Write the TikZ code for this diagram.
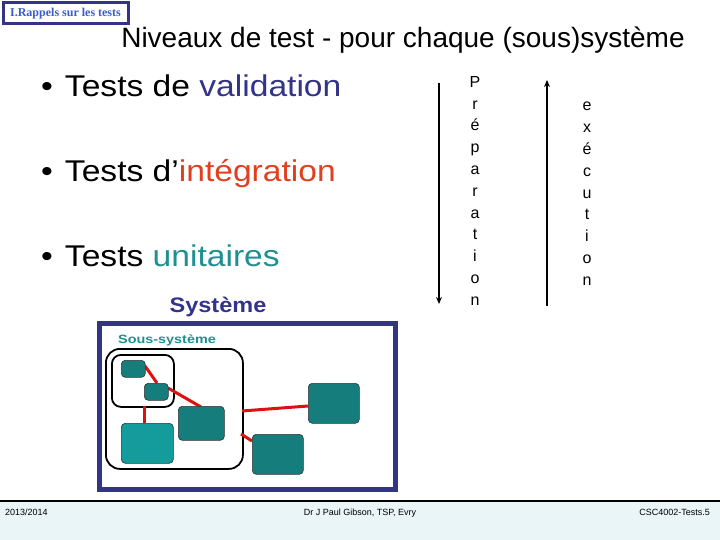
\documentclass[tikz,border=0pt]{standalone}
\usepackage{fontspec}
\usetikzlibrary{arrows.meta}
\setmainfont{Liberation Sans}
\newfontfamily\serifb{Liberation Serif}
\newfontfamily\wide[FakeStretch=1.12]{Liberation Sans}
\newfontfamily\wider[FakeStretch=1.2]{Liberation Sans}
\definecolor{navy}{HTML}{333388}
\definecolor{orangered}{HTML}{E04020}
\definecolor{tealtxt}{HTML}{1F9090}
\definecolor{tealdark}{HTML}{167D7D}
\definecolor{teallight}{HTML}{149C9C}
\definecolor{linkred}{HTML}{DD1111}
\definecolor{footbg}{HTML}{E9F5F7}
\definecolor{tagblue}{HTML}{3A5CCC}
\tikzset{
  comp/.style={draw=black!80, line width=0.6pt, rounded corners=4pt, fill=tealdark},
  link/.style={draw=linkred, line width=3pt},
  bullet/.style={anchor=base west, font=\wide\fontsize{30}{36}\selectfont, inner sep=0pt},
  vert/.style={align=center, font=\fontsize{16}{21.8}\selectfont, inner sep=0pt, anchor=north},
  foot/.style={font=\fontsize{9}{10}\selectfont, inner sep=0pt, anchor=base}
}
\begin{document}
\begin{tikzpicture}[x=1pt,y=-1pt]
\useasboundingbox (0,0) rectangle (720,540);
\fill[white] (0,0) rectangle (720,540);
% footer
\fill[footbg] (0,501) rectangle (720,540);
\draw[black, line width=1.5pt] (0,501) -- (720,501);
\node[foot, anchor=base west] (f1) at (5,515) {2013/2014};
\node[foot] (f2) at (360,515) {Dr J Paul Gibson, TSP, Evry};
\node[foot, anchor=base east] (f3) at (710,515) {CSC4002-Tests.5};
% tag
\node[draw=navy, line width=3pt, fill=white, minimum width=125pt, minimum height=21pt, anchor=north west, inner sep=0pt,
  font=\serifb\bfseries\fontsize{12}{13}\selectfont, text=tagblue] (tag) at (1.5,1.5) {I.Rappels sur les tests\hspace{5pt}};
% title
\node[font=\fontsize{28}{32}\selectfont, anchor=base] (title) at (403,48) {Niveaux de test - pour chaque (sous)système};
% bullets
\node[bullet] (b1) at (41,97) {\textbullet\hspace{12pt}Tests de \textcolor{navy}{validation}};
\node[bullet] (b2) at (41,182) {\textbullet\hspace{12pt}Tests d’\textcolor{orangered}{intégration}};
\node[bullet] (b3) at (41,266) {\textbullet\hspace{12pt}Tests \textcolor{tealtxt}{unitaires}};
% arrows and vertical words
\coordinate (dtop) at (439,83);
\coordinate (dbot) at (439,304);
\draw[line width=1.5pt, -{Stealth[length=7pt,width=6pt]}] (dtop) -- (dbot);
\coordinate (ubot) at (547,306);
\coordinate (utop) at (547,80);
\draw[line width=1.5pt, -{Stealth[length=7pt,width=6pt]}] (ubot) -- (utop);
\node[vert] (prep) at (475,76) {P\\r\\é\\p\\a\\r\\a\\t\\i\\o\\n};
\node[vert] (exec) at (587,102) {e\\x\\é\\c\\u\\t\\i\\o\\n};
% system frame
\node[font=\wide\bfseries\fontsize{21}{24}\selectfont, text=navy, anchor=base] (sys) at (218,312) {Système};
\draw[navy, line width=5pt] (99,323) rectangle (395,489);
\node[font=\wider\bfseries\fontsize{12}{13}\selectfont, text=tealtxt, anchor=base west, inner sep=0pt] (sous) at (118,343) {Sous-système};
\node[draw, line width=1.8pt, rounded corners=14pt, minimum width=137pt, minimum height=120pt, anchor=north west] (outer) at (105,348) {};
\node[draw, line width=1.8pt, rounded corners=9pt, minimum width=62pt, minimum height=52pt, anchor=north west] (inner) at (111,354) {};
% links (drawn before boxes)
\coordinate (l1a) at (145,366);
\coordinate (l1b) at (157,383);
\coordinate (l2a) at (168,388);
\coordinate (l2b) at (201,407);
\coordinate (l3a) at (144,406);
\coordinate (l3b) at (144,423);
\coordinate (l4a) at (242,411);
\coordinate (l4b) at (308,406);
\coordinate (l5a) at (241,434);
\coordinate (l5b) at (252,441);
\draw[link] (l1a) -- (l1b);
\draw[link] (l2a) -- (l2b);
\draw[link] (l3a) -- (l3b);
\draw[link] (l4a) -- (l4b);
\draw[link] (l5a) -- (l5b);
\node[comp, minimum width=24pt, minimum height=17pt, anchor=north west] (c1) at (121,360) {};
\node[comp, minimum width=24pt, minimum height=17pt, anchor=north west] (c2) at (144,383) {};
\node[comp, fill=teallight, minimum width=52pt, minimum height=40pt, anchor=north west] (c3) at (121,423) {};
\node[comp, minimum width=46pt, minimum height=34pt, anchor=north west] (c4) at (178,406) {};
\node[comp, minimum width=51pt, minimum height=40pt, anchor=north west] (c5) at (308,383) {};
\node[comp, minimum width=51pt, minimum height=40pt, anchor=north west] (c6) at (252,434) {};
\end{tikzpicture}
\end{document}
